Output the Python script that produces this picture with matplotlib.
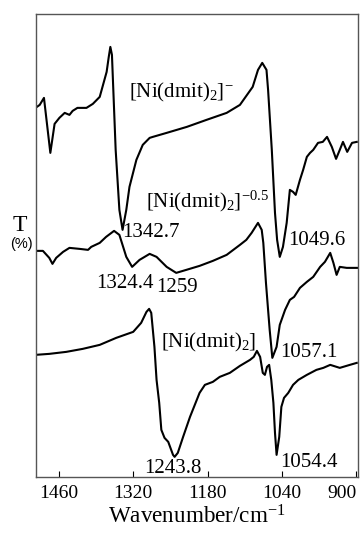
import matplotlib
matplotlib.use("Agg")
import matplotlib.pyplot as plt

plt.rcParams['font.family'] = ['Liberation Serif', 'DejaVu Serif']
plt.rcParams['mathtext.fontset'] = 'custom'
plt.rcParams['mathtext.rm'] = 'Liberation Serif'
plt.rcParams['mathtext.it'] = 'Liberation Serif:italic'

# === Dane: widma IR (liczba falowa / cm-1, transmitancja w jednostkach umownych) ===
wn_anion = [1504, 1496, 1488, 1476, 1468, 1459, 1449, 1440, 1434, 1425, 1408, 1396,
            1383, 1370, 1366, 1363, 1360, 1353, 1346, 1340, 1333, 1327, 1314, 1302,
            1289, 1283, 1257, 1219, 1182, 1144, 1119, 1095, 1085, 1077, 1069, 1066,
            1059, 1053, 1049, 1044, 1038, 1031, 1025, 1019, 1014, 1006, 1000, 993,
            987, 981, 972, 963, 955, 946, 938, 931, 925, 917, 908, 899]
t_anion = [369, 372, 379, 324, 353, 359, 364, 362, 366, 369, 369, 373,
           380, 405, 420, 430, 422, 327, 267, 247, 267, 290, 317, 332,
           339, 340, 344, 350, 357, 364, 372, 390, 407, 414, 407, 387,
           327, 264, 237, 220, 230, 254, 287, 285, 282, 297, 307, 320,
           324, 327, 334, 335, 340, 330, 318, 327, 335, 325, 334, 335]

wn_half = [1504, 1490, 1478, 1472, 1465, 1452, 1440, 1421, 1405, 1399, 1383, 1371,
           1356, 1346, 1333, 1322, 1308, 1289, 1276, 1257, 1239, 1220, 1195, 1170,
           1144, 1119, 1107, 1097, 1085, 1078, 1075, 1070, 1066, 1063, 1058, 1050,
           1044, 1034, 1025, 1017, 1006, 993, 981, 968, 959, 949, 943, 937,
           931, 918, 897]
t_half = [226, 226, 219, 213, 219, 225, 229, 228, 227, 230, 234, 240,
          246, 242, 220, 210, 217, 223, 220, 210, 204, 207, 211, 216,
          222, 232, 237, 244, 254, 247, 234, 194, 167, 147, 119, 130,
          152, 167, 177, 180, 189, 195, 200, 210, 215, 224, 214, 202,
          210, 209, 209]

wn_neutral = [1504, 1478, 1446, 1415, 1383, 1352, 1320, 1305, 1295, 1290, 1286, 1280,
              1276, 1271, 1267, 1261, 1254, 1245, 1242, 1236, 1226, 1213, 1195, 1185,
              1170, 1157, 1138, 1119, 1100, 1093, 1087, 1081, 1076, 1072, 1068, 1064,
              1060, 1056, 1053, 1050, 1045, 1041, 1036, 1028, 1019, 1009, 993, 975,
              962, 949, 931, 912, 899]
t_neutral = [122, 123, 125, 128, 132, 139, 145, 154, 165, 168, 164, 130,
             97, 74, 47, 39, 35, 22, 20, 24, 40, 60, 84, 92,
             95, 100, 104, 111, 117, 120, 126, 120, 104, 102, 110, 112,
             97, 74, 44, 22, 40, 70, 79, 84, 92, 97, 102, 107,
             109, 112, 109, 112, 114]

xticks = [1460, 1320, 1180, 1040, 900]

# (tekst, liczba falowa, T)
labels = [
    ("[Ni(dmit)$_2$]$^{-}$", 1328, 379),
    ("[Ni(dmit)$_2$]$^{-0.5}$", 1295, 270),
    ("1342.7", 1340, 240),
    ("1049.6", 1029, 232),
    ("1324.4", 1389, 189),
    ("1259", 1276, 185),
    ("[Ni(dmit)$_2$]", 1268, 129),
    ("1057.1", 1044, 120),
    ("1243.8", 1300, 4),
    ("1054.4", 1044, 10),
]

fig = plt.figure(figsize=(3.6, 5.34), dpi=100)
ax = fig.add_axes([0.1, 0.107, 0.894, 0.867])

for wn, t in [(wn_anion, t_anion), (wn_half, t_half), (wn_neutral, t_neutral)]:
    ax.plot(wn, t, color='black', lw=1.5)

for txt, x, y in labels:
    ax.text(x, y, txt, fontsize=15, ha='left', va='baseline')

ax.set_xlim(1503, 897)
ax.set_ylim(0, 463)
ax.set_xticks(xticks)
ax.set_yticks([])
ax.tick_params(axis='x', direction='in', length=4, labelsize=14, pad=6)
ax.get_xticklabels()[-1].set_horizontalalignment('right')
for s in ax.spines.values():
    s.set_color('#555555')
    s.set_linewidth(1.0)

ax.set_xlabel("Wavenumber/cm$^{-1}$", fontsize=16.7, labelpad=2)
fig.text(20 / 360, 1 - 231 / 534, "T", fontsize=17, ha='center', va='baseline')
fig.text(21 / 360, 1 - 248 / 534, "(%)", fontsize=10.5, ha='center', va='baseline',
         family=['Liberation Sans', 'DejaVu Sans'])

plt.savefig("out.png", dpi=100)
